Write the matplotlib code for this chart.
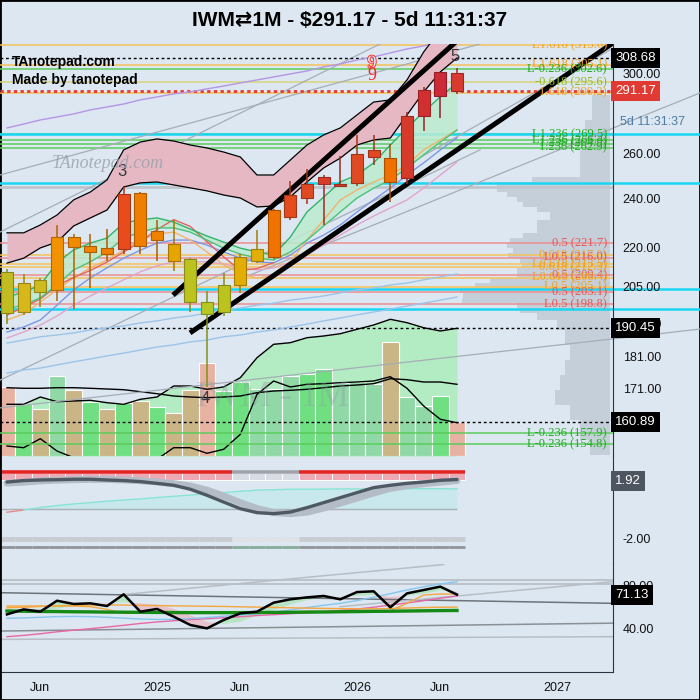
# =============================================================================
# IWM 1M - candles, fib levels, volume, two oscillators (TradingView style)
# =============================================================================
import numpy as np
import matplotlib
matplotlib.use('Agg')
import matplotlib.pyplot as plt
import matplotlib.transforms as mtransforms
import matplotlib.patheffects as pe
from matplotlib.colors import to_rgb

plt.rcParams['font.family'] = ['Liberation Sans', 'DejaVu Sans']

# =============================================================================
# 1. DATA
# =============================================================================
months = ['2024-04', '2024-05', '2024-06', '2024-07', '2024-08', '2024-09', '2024-10',
          '2024-11', '2024-12', '2025-01', '2025-02', '2025-03', '2025-04', '2025-05',
          '2025-06', '2025-07', '2025-08', '2025-09', '2025-10', '2025-11', '2025-12',
          '2026-01', '2026-02', '2026-03', '2026-04', '2026-05', '2026-06', '2026-07']

opens  = [210.6, 196.0, 207.7, 204.0, 224.2, 218.1, 219.9, 219.4, 242.5, 222.8, 221.5, 215.6,
          199.4, 195.9, 205.6, 214.7, 216.2, 232.2, 240.5, 246.3, 245.7, 246.7, 258.7, 258.0,
          249.0, 278.4, 288.2, 300.4]
highs  = [211.5, 209.9, 208.2, 229.1, 225.3, 225.3, 227.3, 245.3, 243.1, 230.9, 231.2, 216.0,
          203.5, 210.0, 217.6, 227.1, 235.5, 247.6, 253.1, 250.5, 259.0, 269.0, 269.0, 264.6,
          280.4, 293.2, 301.2, 303.1]
lows   = [191.8, 195.0, 197.6, 199.9, 197.0, 204.7, 214.7, 217.4, 217.4, 214.6, 210.8, 195.9,
          171.5, 194.5, 202.9, 214.0, 215.3, 231.2, 237.6, 229.1, 245.2, 245.7, 255.1, 238.7,
          246.3, 270.9, 277.4, 289.4]
closes = [195.7, 206.4, 203.3, 224.2, 220.0, 220.7, 217.6, 242.2, 220.7, 226.6, 214.7, 199.6,
          195.2, 205.7, 216.2, 219.2, 235.3, 241.6, 246.3, 249.4, 246.5, 259.9, 261.9, 247.1,
          278.1, 291.5, 300.9, 291.17]
candle_colors = ['#c0bc22', '#d6b81a', '#cdbb20', '#f29200', '#f08a00', '#f08300', '#f07f00',
                 '#e84c1c', '#f07e00', '#f08200', '#e6a400', '#bcc21e', '#b6c826', '#bcc21e',
                 '#e2ae06', '#e2ae06', '#f07200', '#e44c20', '#e04a22', '#d83c2c', '#d83c2c',
                 '#e04a22', '#e04822', '#f07000', '#d63a2a', '#d23030', '#cc2a38', '#d83a30']

# volume (millions) and its bands
volumes = [690, 517, 473, 800, 660, 543, 473, 527, 550, 490, 433, 660, 933, 650,
           743, 673, 667, 800, 817, 873, 733, 743, 723, 1140, 590, 500, 600, 343]
vol_kind = ['s', 'g', 't', 'p', 't', 'g', 't', 'g', 't', 'g', 't', 't', 's', 'g',
            'g', 'p', 'p', 'p', 'g', 'g', 'p', 'p', 'p', 't', 'p', 'p', 'g', 's']
vol_band_up  = [517, 517, 590, 543, 550, 557, 533, 517, 567, 590, 700, 700, 667, 690,
                783, 983, 1117, 1133, 1183, 1200, 1223, 1267, 1310, 1367, 1333, 1283, 1250, 1277]
vol_band_mid = [683, 677, 677, 683, 683, 677, 670, 663, 643, 623, 600, 590, 583, 590,
                600, 633, 650, 657, 667, 683, 700, 710, 723, 773, 763, 740, 740, 717]
vol_band_low = [100, 83, 173, 50, -17, -83, -150, -183, -200, -33, 83, 83, 27, 67,
                217, 617, 750, 690, 717, 723, 733, 740, 750, 793, 677, 500, 367, 333]

# pink price band
band_upper = [225.8, 225.8, 229.0, 233.1, 239.5, 242.9, 248.2, 261.9, 265.6, 267.1, 266.1, 264.2,
              262.8, 260.9, 258.6, 250.4, 250.4, 257.2, 264.2, 269.0, 272.4, 278.8, 285.3, 286.4,
              296.8, 312.0, 324.6, 336.4]
band_lower = [213.9, 215.8, 219.8, 222.1, 228.6, 231.9, 235.2, 245.1, 246.9, 247.3, 246.0, 244.7,
              243.4, 241.6, 240.3, 236.5, 236.9, 240.8, 247.3, 253.6, 258.1, 264.2, 266.6, 267.5,
              278.8, 290.5, 301.1, 308.7]

# moving averages
ma_fast   = [201.3, 203.1, 205.7, 214.0, 219.0, 221.7, 223.7, 229.8, 231.1, 231.9, 230.2, 227.3,
             224.5, 222.1, 219.7, 218.2, 217.0, 224.1, 234.4, 240.7, 247.3, 250.4, 255.9, 264.2,
             272.4, 280.3, 288.0, 295.2]
ma_slow   = [197.0, 198.5, 201.0, 205.7, 211.3, 214.4, 218.2, 223.7, 226.1, 227.8, 227.8, 226.1,
             222.9, 219.7, 217.4, 215.8, 215.1, 218.2, 222.9, 228.6, 234.4, 240.3, 244.6, 248.2,
             253.6, 259.6, 265.6, 271.4]
ma_red    = [194.9, 197.7, 200.6, 205.4, 208.5, 211.1, 214.3, 218.2, 222.2, 227.1, 231.2, 228.4,
             222.2, 216.3, 211.1, 211.8, 214.1]
ma_blue   = [189.1, 190.8, 193.2, 198.4, 203.9, 208.3, 212.1, 215.8, 218.9, 221.7, 222.9, 222.9,
             220.9, 218.2, 215.8, 214.4, 214.0, 217.0, 221.7, 224.9, 229.0, 234.4, 239.5, 244.6,
             250.4, 255.9, 261.9, 267.6]
ma_orange = [193.2, 195.3, 199.5, 203.9, 208.3, 212.1, 215.1, 219.0, 222.9, 225.3, 226.1, 222.9,
             218.2, 213.2, 209.8, 208.3, 209.0, 214.4, 222.9, 231.1, 239.5, 243.8, 247.3, 250.4,
             254.9, 261.9, 266.6, 271.4]
ma_pink   = [187.1, 189.1, 191.5, 194.6, 198.4, 201.7, 204.6, 207.6, 210.6, 212.9, 214.4, 214.4,
             214.4, 213.6, 212.1, 211.3, 212.1, 214.4, 217.0, 220.9, 224.9, 229.0, 232.7, 236.1,
             239.5, 244.6, 250.4, 256.3]
ma_lblue1 = [185.4, 186.4, 187.5, 188.1, 188.8, 189.8, 190.5, 191.2, 192.2, 192.9, 193.9, 194.6,
             195.6, 196.7, 197.4, 198.4, 199.1, 200.2, 200.9, 201.7, 202.8, 203.9, 204.6, 205.7,
             206.4, 207.6, 208.7, 209.8]
ma_lblue2 = [175.7, 176.7, 177.3, 178.3, 179.3, 180.2, 181.2, 182.1, 183.1, 184.1, 184.8, 185.8,
             186.4, 187.5, 188.1, 189.1, 189.8, 190.8, 191.8, 192.9, 193.9, 195.0, 196.0, 197.0,
             198.1, 199.1, 200.2, 201.3]
ma_purple = [272.4, 274.3, 276.3, 277.8, 279.3, 281.3, 282.8, 284.3, 286.4, 287.9, 289.5, 290.5,
             292.1, 293.6, 295.2, 296.8, 298.4, 300.0, 301.6, 303.8, 305.4, 307.6, 309.3, 311.5,
             313.7, 315.4, 317.6, 318.8]

# fib levels and other horizontal levels
fib_prices = [315.8, 305.1, 302.6, 295.6, 290.2, 269.5, 266.4, 264.9, 262.9, 221.7, 217.0,
              216.0, 213.5, 212.3, 209.4, 208.4, 205.1, 203.1, 198.8, 157.9, 154.8]
fib_texts = ['L1.618 (313.6)', 'L1.618 (305.1)', 'L-0.236 (302.6)', '-0.618 (295.6)',
             '1.618 (290.2)', 'L1.236 (269.5)', 'L1.236 (266.4)', '1.236 (264.9)',
             '1.236 (262.9)', '0.5 (221.7)', '0.618 (217.0)', 'L0.5 (216.0)',
             'L0.618 (213.5)', '0.618 (212.3)', '0.5 (209.4)', 'L0.618 (208.4)',
             'L0.5 (205.1)', '0.5 (203.1)', 'L0.5 (198.8)', 'L-0.236 (157.9)', 'L-0.236 (154.8)']
fib_kind = ['o', 'o', 'g', 'y', 'o', 'g', 'g', 'g', 'g', 'r', 'o', 'r', 'o', 'o', 'r', 'o',
            'o', 'r', 'r', 'g', 'g']
cyan_prices = [269.5, 246.7, 204.1, 197.0]
dotted_prices = [308.68, 190.45, 160.89]
last_price = 291.17

# trend lines (month index, price)
trend_x = [[9.96, 27.06], [10.98, 36.36]]
trend_p = [[202.0, 318.8], [188.8, 317.1]]
gray_x = [[-0.42, 22.38], [-0.42, 28.38], [-0.42, 28.38], [-0.42, 41.58], [14.58, 41.58], [22.56, 36.3]]
gray_p = [[226.1, 316.5], [250.4, 316.5], [173.5, 261.9], [165.1, 190.1], [209.4, 290.0], [248.8, 313.8]]

# volume profile
vp_edges = [151.7, 155.9, 161.5, 165.9, 170.4, 175.1, 179.8, 184.7, 189.7, 193.1, 195.5, 197.3,
            199.1, 200.9, 202.7, 204.5, 206.3, 208.2, 210.1, 212.0, 213.9, 215.8, 217.8, 219.8,
            221.7, 223.7, 225.8, 231.2, 234.4, 236.5, 238.6, 240.8, 242.9, 245.1, 247.3, 249.5,
            261.9, 276.3, 288.9]
vp_widths = [20, 30, 40, 55, 50, 45, 40, 45, 53, 73, 90, 93, 148, 147, 150, 135, 120, 93, 93,
             88, 90, 102, 97, 103, 100, 87, 73, 60, 73, 87, 93, 103, 113, 113, 78, 30, 25, 18]

# middle oscillator
osc_dark  = [1.85, 1.95, 1.99, 2.01, 2.04, 2.04, 1.99, 1.95, 1.88, 1.76, 1.63, 1.36, 0.95, 0.49,
             0.04, -0.23, -0.30, -0.19, 0.11, 0.45, 0.79, 1.13, 1.47, 1.63, 1.76, 1.85, 1.97, 2.02]
osc_light = [1.78, 1.84, 1.93, 1.98, 2.01, 2.03, 2.03, 1.99, 1.94, 1.86, 1.74, 1.58, 1.30, 0.90,
             0.45, 0.05, -0.22, -0.30, -0.20, 0.08, 0.42, 0.76, 1.10, 1.42, 1.60, 1.74, 1.84, 1.95]
osc_cyan  = [-0.20, -0.05, 0.12, 0.25, 0.36, 0.45, 0.55, 0.63, 0.70, 0.80, 0.88, 0.97, 1.05, 1.13,
             1.22, 1.30, 1.33, 1.36, 1.36, 1.37, 1.38, 1.38, 1.38, 1.39, 1.40, 1.40, 1.40, 1.38]
osc_state = [1] * 14 + [0] * 4 + [1] * 10
osc_last = 1.92

# RSI panel
rsi = [52.9, 57.5, 55.4, 65.5, 62.5, 63.1, 60.6, 71.4, 55.4, 57.9, 50.8, 43.1, 40.0, 47.7,
       53.9, 55.4, 63.7, 66.8, 68.6, 69.9, 66.8, 73.5, 74.2, 59.4, 72.3, 75.4, 78.5, 71.13]
rsi_sig = [58, 57, 57, 58, 61, 62, 63, 64, 63, 62, 58, 52, 46, 44,
           46, 52, 57, 62, 66, 68, 69, 70, 71, 69, 70, 72, 75, 74]
rsi_orange_a = [60.6, 60.6, 60.6, 60.6, 60.6, 60.0, 57.5, 53.9, 54.5, 54.5, 54.5, 54.5, 54.5, 54.5,
                54.5, 54.8, 55.1, 55.4, 55.7, 55.7, 55.7, 55.7, 56.3, 56.3, 63.1, 70.8, 71.7, 71.7]
rsi_orange_b = [59.0, 59.5, 60.2, 60.8, 61.2, 61.5, 61.6, 61.5, 61.2, 61.0, 60.8, 60.6, 60.4, 60.2,
                59.9, 59.6, 59.3, 59.0, 58.7, 58.4, 58.2, 58.0, 58.0, 58.3, 58.8, 59.2, 59.5, 59.6]
rsi_pink = [32.3, 33.5, 35.0, 36.8, 38.3, 39.7, 41.2, 42.8, 44.5, 45.9, 47.0, 48.0, 48.9, 49.8,
            50.7, 51.8, 52.6, 53.5, 54.3, 55.4, 56.6, 57.8, 59.5, 61.6, 63.4, 65.5, 67.8, 69.9]
rsi_lblue = [49.2, 49.6, 50.2, 50.8, 51.0, 50.8, 50.2, 49.4, 48.6, 48.2, 48.3, 49.0, 50.0, 51.2,
             52.3, 53.5, 55.0, 57.0, 59.2, 61.3, 63.1, 65.6, 68.8, 72.0, 75.4, 78.4, 81.0, 83.1]
rsi_green = [56.0, 55.8, 55.6, 55.5, 55.3, 55.2, 55.0, 54.9, 54.8, 54.7, 54.6, 54.5, 54.5, 54.5,
             54.5, 54.6, 54.7, 54.8, 55.0, 55.1, 55.3, 55.5, 55.7, 55.8, 56.0, 56.2, 56.4, 56.5]
rsi_gray_x = [[-0.42, 36.36], [-0.42, 36.36], [-0.42, 36.36], [7.08, 26.2], [-0.42, 36.36],
              [-0.42, 36.36], [20.0, 36.36]]
rsi_gray_v = [[84.6, 84.6], [80.9, 80.9], [72.9, 63.1], [71.4, 98.9], [37.5, 44.8],
              [29.8, 32.3], [60.0, 83.1]]

xtick_pos = [2, 9, 14, 21, 26, 33]
xtick_labels = ['Jun', '2025', 'Jun', '2026', 'Jun', '2027']
price_ticks = [171, 181, 192, 205, 220, 240, 260, 300]

# =============================================================================
# 2. STYLE
# =============================================================================
BG = '#dce7f1'
AXIS_CLR = '#2a3244'
XLIM = (-0.42, 36.36)
YLIM = (151.5, 316.5)
VOL_CLR = {'s': '#e8b2a2', 't': '#c9b585', 'g': '#6fdf82', 'p': '#90d9a6'}
FIB_LINE = {'o': '#f6c25a', 'g': '#5ccc5c', 'y': '#d6d67a', 'r': '#ee8e8e'}
FIB_TEXT = {'o': '#eda225', 'g': '#22aa22', 'y': '#8fba1e', 'r': '#e05858'}

x = np.arange(len(months))

fig = plt.figure(figsize=(7, 7), dpi=100, facecolor=BG)
pos_main = [0.0, 1 - 456 / 700, 613 / 700, 412 / 700]
axv = fig.add_axes(pos_main, label='volume')
axp = fig.add_axes(pos_main, label='profile')
ax = fig.add_axes(pos_main, label='price')
ax2 = fig.add_axes([0.0, 1 - 564 / 700, 613 / 700, 108 / 700])
ax3 = fig.add_axes([0.0, 1 - 672 / 700, 613 / 700, 108 / 700])
axv.set_zorder(0)
axp.set_zorder(0.5)
ax.set_zorder(1)


def price_box(axis, value, text, fc):
    tr = mtransforms.blended_transform_factory(axis.transAxes, axis.transData)
    axis.text(1.004, value, text, transform=tr, ha='left', va='center', fontsize=9.5,
              color='white', zorder=30, clip_on=False,
              bbox=dict(boxstyle='square,pad=0.3', fc=fc, ec='none'))


def right_axis(axis):
    axis.set_facecolor('none')
    for s in axis.spines.values():
        s.set_visible(False)
    axis.spines['right'].set_visible(True)
    axis.spines['right'].set_color(AXIS_CLR)
    axis.yaxis.tick_right()
    axis.tick_params(axis='y', length=0, pad=7, labelsize=9, colors='#111111')
    axis.set_xticks([])
    axis.set_xlim(XLIM)


# ---- volume layer ----
axv.axis('off')
axv.set_xlim(XLIM)
axv.set_ylim(0, 4120)
axv.fill_between(x, vol_band_up, 0, color='#b3ecc3', lw=0)
axv.bar(x, volumes, width=1.0, color=[VOL_CLR[k] for k in vol_kind], edgecolor='white', lw=0.8)
for band in (vol_band_up, vol_band_mid, vol_band_low):
    axv.plot(x, band, color='black', lw=1)

# ---- volume profile ----
axp.axis('off')
axp.set_yscale('log')
axp.set_ylim(YLIM)
axp.set_xlim(613, 0)
axp.barh(vp_edges[:-1], vp_widths, height=np.diff(vp_edges), left=3, align='edge',
         color='#a9b2bd', alpha=0.45, lw=0)

# ---- price panel ----
ax.set_yscale('log')
right_axis(ax)
ax.set_ylim(YLIM)
ax.set_yticks(price_ticks, labels=[f'{t:.2f}' for t in price_ticks])
ax.set_yticks([], minor=True)

for p, k in zip(fib_prices, fib_kind):
    ax.axhline(p, color=FIB_LINE[k], lw=1.1, zorder=1)
ax.axhline(245.3, color='#bfc5cc', lw=2, zorder=1)
for p in cyan_prices:
    ax.axhline(p, xmin=0, xmax=700 / 613, color='#19d6f2', lw=1.8, zorder=1.5, clip_on=False)
for p in dotted_prices:
    ax.axhline(p, color='black', lw=1, ls=(0, (2, 2)), zorder=2)
ax.axhline(last_price, color='#e53935', lw=2, ls=(0, (1.2, 1.2)), zorder=2)

for gx, gp in zip(gray_x, gray_p):
    ax.plot(gx, gp, color='#a6adb6', lw=0.9, zorder=1.5, clip_on=(gx[1] < 37))

# moving averages and fills
ax.fill_between(x, ma_fast, ma_slow, where=np.array(ma_fast) >= np.array(ma_slow),
                interpolate=True, color='#bdebcf', alpha=0.85, lw=0, zorder=2)
ax.fill_between(x, ma_fast, ma_slow, where=np.array(ma_fast) < np.array(ma_slow),
                interpolate=True, color='#e7c2cd', alpha=0.85, lw=0, zorder=2)
ax.plot(x, ma_lblue2, color='#9cc4ea', lw=1, zorder=2.5)
ax.plot(x, ma_lblue1, color='#9cc4ea', lw=1, zorder=2.5)
ax.plot(x, ma_pink, color='#e2a4cc', lw=1, zorder=2.5)
ax.plot(x, ma_purple, color='#b595e6', lw=1, zorder=2.5)
ax.plot(x, ma_blue, color='#7d97e6', lw=1, zorder=2.5)
ax.plot(x, ma_orange, color='#f2b36a', lw=1, zorder=2.5)
ax.plot(x[:len(ma_red)], ma_red, color='#e06464', lw=1, zorder=2.5)
ax.plot(x, ma_slow, color='#4cc27a', lw=1, zorder=2.6)
ax.plot(x, ma_fast, color='#30b46a', lw=1, zorder=2.6)

# pink band
ax.fill_between(x, band_lower, band_upper, color='#e5b8c3', lw=0, zorder=3)
ax.plot(x, band_upper, color='black', lw=0.9, zorder=3.1)
ax.plot(x, band_lower, color='black', lw=0.9, zorder=3.1)

# thick trend lines
for tx, tp in zip(trend_x, trend_p):
    ax.plot(tx, tp, color='black', lw=3.6, solid_capstyle='butt', zorder=4)

# candles
edges = [tuple(np.array(to_rgb(c)) * 0.72) for c in candle_colors]
ax.vlines(x, lows, highs, colors=edges, lw=1.1, zorder=5)
bodies = [max(abs(c - o), 0.5) for o, c in zip(opens, closes)]
ax.bar(x, bodies, bottom=np.minimum(opens, closes), width=0.72, color=candle_colors,
       edgecolor=edges, lw=0.8, zorder=6)

# fib labels
for p, t, k in zip(fib_prices, fib_texts, fib_kind):
    txt = ax.text(0.99, p, t, transform=mtransforms.blended_transform_factory(ax.transAxes, ax.transData),
                  ha='right', va='center', fontsize=9, color=FIB_TEXT[k],
                  family=['Liberation Serif', 'DejaVu Serif'], zorder=8)
    txt.set_clip_on(True)

# wave labels / TD count
ax.text(6.9, 251.8, '3', fontsize=12, color='#33383e', ha='center', va='center', zorder=9)
ax.text(11.9, 168.0, '4', fontsize=12, color='#33383e', ha='center', va='center', zorder=9)
ax.text(26.9, 309.3, '5', fontsize=12, color='#33383e', ha='center', va='center', zorder=9)
ax.text(21.9, 305.9, '9', fontsize=13, color=BG, ha='center', va='center', zorder=9,
        family=['Liberation Serif', 'DejaVu Serif'],
        path_effects=[pe.withStroke(linewidth=1.3, foreground='#ff2a2a')])
ax.text(21.9, 299.3, '9', fontsize=13, color='#ff2020', ha='center', va='center', zorder=9,
        family=['Liberation Serif', 'DejaVu Serif'])

# price boxes
price_box(ax, 308.68, '308.68', 'black')
price_box(ax, last_price, f'{last_price:.2f}', '#e03a33')
price_box(ax, 190.45, '190.45', 'black')
price_box(ax, 160.89, '160.89', 'black')
ax.text(1.012, 275.3, '5d 11:31:37', transform=mtransforms.blended_transform_factory(ax.transAxes, ax.transData),
        ha='left', va='center', fontsize=9, color='#4f7ca5', clip_on=False)

# ---- middle oscillator ----
right_axis(ax2)
ax2.set_ylim(-3.72, 3.62)
ax2.set_yticks([-2.0], labels=['-2.00'])
for xi, st in zip(x, osc_state):
    ax2.hlines(2.56, xi - 0.5, xi + 0.5, color='#e52424' if st else '#a0a4aa', lw=2.6)
    ax2.hlines(-2.04, xi - 0.5, xi + 0.5, color='#c8ccd2' if st else '#dde2e8', lw=3.5)
    ax2.hlines(-2.54, xi - 0.5, xi + 0.5, color='#909499' if st else '#86aa9a', lw=2)
ax2.bar(x, 0.5, bottom=1.99, width=1.0, color=['#eeaab4' if s else '#d7dce5' for s in osc_state],
        edgecolor='white', lw=0.7)
ax2.hlines(0, XLIM[0], x[-1], color='#a9b0b8', lw=1)
cy = np.array(osc_cyan)
ax2.fill_between(x, cy, 0, where=cy >= 0, interpolate=True, color='#c9e8ed', lw=0)
ax2.plot(x[:2], cy[:2], color='#e88a8a', lw=1)
ax2.plot(x[1:], cy[1:], color='#86e4d6', lw=1)
ax2.plot(x, osc_light, color='#b4bdc7', lw=5, solid_capstyle='round')
ax2.plot(x, osc_dark, color='#4f5964', lw=2.4, solid_capstyle='round')
ax2.text(1.004, osc_last, f'{osc_last:.2f}',
         transform=mtransforms.blended_transform_factory(ax2.transAxes, ax2.transData),
         ha='left', va='center', fontsize=9.5, color='white', zorder=30, clip_on=False,
         bbox=dict(boxstyle='square,pad=0.3', fc='#4d5560', ec='none'))

# ---- RSI panel ----
right_axis(ax3)
ax3.set_ylim(-0.3, 99.4)
ax3.set_yticks([40, 80], labels=['40.00', '80.00'])
ax3.spines['bottom'].set_visible(True)
ax3.spines['bottom'].set_color(AXIS_CLR)
ax3.set_xticks(xtick_pos, labels=xtick_labels)
ax3.tick_params(axis='x', length=0, pad=7, labelsize=9, colors='#111111')
gray_styles = ['#b3b9c0', '#b3b9c0', '#6d737a', '#b8bec5', '#8a9096', '#b8bec4', '#b8bec5']
for gx, gv, gc in zip(rsi_gray_x, rsi_gray_v, gray_styles):
    ax3.plot(gx, gv, color=gc, lw=1.1)
r = np.array(rsi)
s = np.array(rsi_sig)
ax3.fill_between(x, r, s, where=r >= s, interpolate=True, color='#9fe4a6', alpha=0.6, lw=0)
ax3.fill_between(x, r, s, where=r < s, interpolate=True, color='#f0acb6', alpha=0.6, lw=0)
ax3.plot(x, rsi_pink, color='#e868a4', lw=1)
ax3.plot(x, rsi_lblue, color='#86c6ee', lw=1)
ax3.plot(x, rsi_orange_b, color='#f5a63c', lw=1)
ax3.plot(x, rsi_orange_a, color='#f5a63c', lw=1)
ax3.plot(x, rsi_green, color='#158a15', lw=2.4)
ax3.plot(x, rsi, color='black', lw=1.8)
price_box(ax3, rsi[-1], f'{rsi[-1]:.2f}', 'black')

# ---- titles / watermarks ----
fig.text(0.5, 1 - 20 / 700, 'IWM⇄1M - $291.17 - 5d 11:31:37', ha='center', va='center',
         fontsize=15, fontweight='bold', family=['Liberation Sans Narrow', 'Liberation Sans', 'DejaVu Sans'])
fig.text(12 / 700, 1 - 62 / 700, 'TAnotepad.com', ha='left', va='center', fontsize=10,
         fontweight='bold', zorder=10)
fig.text(12 / 700, 1 - 80 / 700, 'Made by tanotepad', ha='left', va='center', fontsize=10,
         fontweight='bold', zorder=10)
fig.text(108 / 700, 1 - 163 / 700, 'TAnotepad.com', ha='center', va='center', fontsize=13,
         style='italic', color='#98a0aa', alpha=0.8, family=['Liberation Serif', 'DejaVu Serif'])
fig.text(272 / 700, 1 - 397 / 700, 'IWM - 1M', ha='center', va='center', fontsize=25,
         color='#8f98a2', alpha=0.35, family=['Liberation Serif', 'DejaVu Serif'])

fig.add_artist(plt.Rectangle((0, 0), 1, 1, transform=fig.transFigure, fill=False,
                             ec='black', lw=2))

fig.savefig('out.png', dpi=100, facecolor=BG)
